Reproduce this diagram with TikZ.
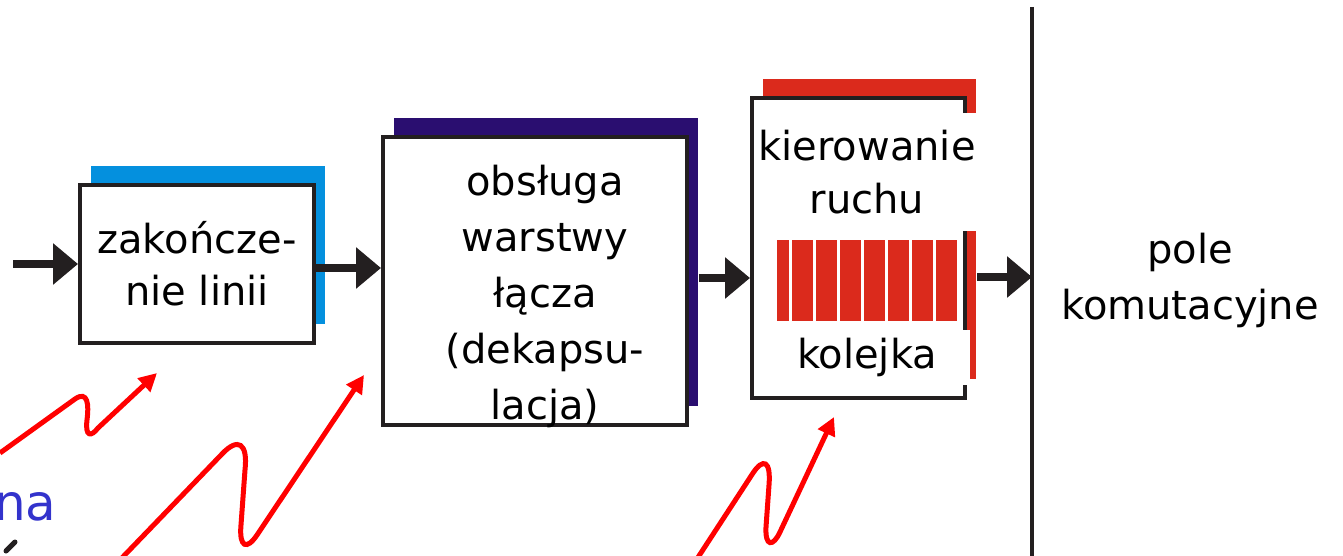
\documentclass[tikz,border=0pt]{standalone}
\usepackage{fontspec}
\setmainfont{DejaVu Sans}
\usetikzlibrary{arrows.meta}
\usetikzlibrary{positioning}
\usetikzlibrary{shadows}

\definecolor{czarny}{RGB}{35,31,32}
\definecolor{niebieski}{RGB}{4,144,222}
\definecolor{granat}{RGB}{42,14,112}
\definecolor{czerwien}{RGB}{219,42,28}
\definecolor{fioletowy}{RGB}{51,51,204}

\begin{document}
\begin{tikzpicture}[x=0.5pt,y=-0.5pt,
		font=\fontsize{20}{28}\selectfont]
		\tikzstyle{blok}=[draw=czarny,line width=2pt,fill=white,inner sep=0pt,align=center]
		\tikzstyle{cien}=[drop shadow={shadow xshift=5.5pt,shadow yshift=9.5pt,fill=#1,opacity=1}]
		\tikzstyle{opis}=[inner sep=0pt,align=center]
		\tikzstyle{latka}=[fill=white,inner sep=0pt,align=center]
		\tikzstyle{strzalka}=[draw=czarny,line width=4pt,-{Triangle[length=12.5pt,width=20pt]}]
		\tikzstyle{fala}=[draw=red,line width=2.5pt,-{Triangle[length=9pt,width=9pt]}]
		
		\useasboundingbox (0,0) rectangle (1343,556);
		
		\node[blok,cien=niebieski,minimum width=117pt,minimum height=79pt,
		font=\fontsize{20}{26}\selectfont] (linia) at (197,264) {zakończe-\\nie linii};
		\node[blok,cien=granat,minimum width=152pt,minimum height=144pt,
		right=32.5pt of linia,yshift=-8.5pt] (lacze) {};
		\node[blok,cien=czerwien,minimum width=106.5pt,minimum height=150pt,
		right=30.5pt of lacze,yshift=16.5pt] (ruch) {};
		
		\node[opis] (laczeopis) at ([xshift=5pt,yshift=-7.5pt]lacze.center)
		{obsługa\\warstwy\\łącza\\(dekapsu-\\lacja)};
		\node[latka,minimum width=108pt,minimum height=59pt,
		font=\fontsize{20}{26.5}\selectfont] (kierowanie) at (867,172) {kierowanie\\ruchu};
		\node[latka,minimum width=103pt,minimum height=27.5pt] (kolejka) at (867,357) {kolejka};
		
		% bufor kolejki
		\foreach \a/\b in {777/789,792/813,816/837,840/861,864/885,888/909,912/933,936/957}
		\fill[czerwien] (\a,240) rectangle (\b,321);
		
		% pole komutacyjne
		\coordinate (polegora) at (1032,7);
		\coordinate (poledol) at (1032,560);
		\draw[czarny,line width=2pt] (polegora) -- (poledol);
		\node[opis] (pole) at (1190,280) {pole\\komutacyjne};
		
		\coordinate (wejscie) at (13,264);
		\draw[strzalka] (wejscie) -- (linia.west);
		\draw[strzalka] ([yshift=-2pt]linia.east) -- ([yshift=-2pt]linia.east -| lacze.west);
		\draw[strzalka] ([xshift=5pt,yshift=1.5pt]lacze.east) -- ([yshift=1.5pt]lacze.east -| ruch.west);
		\draw[strzalka] ([xshift=5pt,yshift=-14.5pt]ruch.east) -- ([yshift=-14.5pt]ruch.east -| polegora);
		
		% fale
		\coordinate (falaA) at (0,453);
		\coordinate (celA) at (157,373);
		\draw[fala] (falaA) -- (75,399) .. controls (88,390) and (89,405) .. (87,420)
		.. controls (85,437) and (91,437) .. (98,428) -- (celA);
		\coordinate (falaB) at (118,562);
		\coordinate (celB) at (364,375);
		\draw[fala] (falaB) -- (222,454) .. controls (238,437) and (248,443) .. (245,470)
		-- (241,525) .. controls (239,548) and (247,550) .. (257,535) -- (celB);
		\coordinate (falaC) at (695,562);
		\coordinate (celC) at (834,417);
		\draw[fala] (falaC) -- (753,473) .. controls (763,458) and (771,460) .. (769,485)
		-- (766,527) .. controls (765,547) and (773,547) .. (780,532) -- (celC);
		
		\node[opis,anchor=base east,text=fioletowy,font=\fontsize{25}{30}\selectfont] (na) at (57,520) {na};
		\draw[czarny,line width=2.5pt,line cap=round] (6,551) -- (15,542);
\end{tikzpicture}
\end{document}
